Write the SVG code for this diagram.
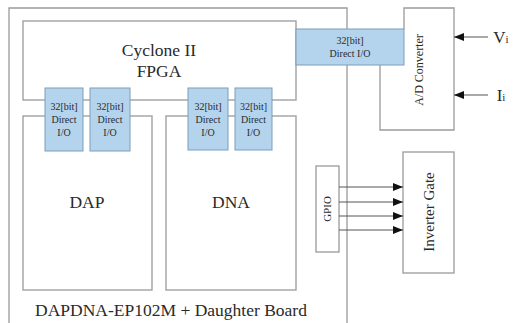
<svg xmlns="http://www.w3.org/2000/svg" width="513" height="323" viewBox="0 0 513 323">
<defs>
<style>
.ln{fill:none;stroke:#9a9a9a;stroke-width:1.3}
.bx{fill:#fff;stroke:#9a9a9a;stroke-width:1.3}
.io{fill:#b4d4ee;stroke:#7d9cb8;stroke-width:1}
text{font-family:'Liberation Serif','Times New Roman',serif;fill:#2a2a2a;text-anchor:middle}
.s{font-size:10px}
.m{font-size:12px}
.l{font-size:17.5px}
.a{stroke:#555;stroke-width:1;fill:none}
</style>
<marker id="ah" viewBox="0 0 10 8" refX="10" refY="4" markerWidth="10" markerHeight="8" markerUnits="userSpaceOnUse" orient="auto">
<path d="M0,0 L10,4 L0,8 z" fill="#111"/>
</marker>
</defs>
<rect width="513" height="323" fill="#fff"/>
<g id="board">
<path class="ln" d="M9,323 V8 H347 V323"/>
<text class="l" x="171" y="316">DAPDNA-EP102M + Daughter Board</text>
</g>
<g id="fpga">
<rect class="bx" x="23" y="21" width="273" height="79"/>
<text class="l" x="159" y="56">Cyclone II</text>
<text class="l" x="159" y="77">FPGA</text>
</g>
<g id="dap">
<rect class="bx" x="23" y="116" width="129" height="174"/>
<text class="l" x="87" y="208">DAP</text>
</g>
<g id="dna">
<rect class="bx" x="166" y="116" width="130" height="174"/>
<text class="l" x="231" y="208">DNA</text>
</g>
<g id="io1">
<rect class="io" x="45" y="88" width="38" height="63"/>
<text class="s" x="64" y="110">32[bit]</text>
<text class="s" x="64" y="123">Direct</text>
<text class="s" x="64" y="136">I/O</text>
</g>
<g id="io2">
<rect class="io" x="90" y="88" width="40" height="63"/>
<text class="s" x="110" y="110">32[bit]</text>
<text class="s" x="110" y="123">Direct</text>
<text class="s" x="110" y="136">I/O</text>
</g>
<g id="io3">
<rect class="io" x="188" y="88" width="40" height="62"/>
<text class="s" x="208" y="110">32[bit]</text>
<text class="s" x="208" y="123">Direct</text>
<text class="s" x="208" y="136">I/O</text>
</g>
<g id="io4">
<rect class="io" x="235" y="88" width="37" height="62"/>
<text class="s" x="253.5" y="110">32[bit]</text>
<text class="s" x="253.5" y="123">Direct</text>
<text class="s" x="253.5" y="136">I/O</text>
</g>
<g id="io5">
<rect class="io" x="296" y="29" width="108" height="36"/>
<text class="s" x="350" y="44">32[bit]</text>
<text class="s" x="350" y="57">Direct I/O</text>
</g>
<g id="adc">
<path class="ln" d="M404,29 V8 H454 V130 H380 V65"/>
<text class="m" transform="translate(423,70) rotate(-90)">A/D Converter</text>
</g>
<g id="gpio">
<rect class="bx" x="316" y="166" width="23" height="86"/>
<text class="m" style="font-size:11px" transform="translate(331,209) rotate(-90)">GPIO</text>
</g>
<g id="inverter">
<rect class="bx" x="403" y="152" width="51" height="121"/>
<text style="font-size:15px" transform="translate(434,212) rotate(-90)">Inverter Gate</text>
</g>
<g id="connectors">
<line class="a" x1="488" y1="37" x2="454" y2="37" marker-end="url(#ah)"/>
<line class="a" x1="488" y1="95" x2="454" y2="95" marker-end="url(#ah)"/>
<line class="a" x1="339" y1="187" x2="403" y2="187" marker-end="url(#ah)"/>
<line class="a" x1="339" y1="202" x2="403" y2="202" marker-end="url(#ah)"/>
<line class="a" x1="339" y1="216" x2="403" y2="216" marker-end="url(#ah)"/>
<line class="a" x1="339" y1="230" x2="403" y2="230" marker-end="url(#ah)"/>
</g>
<g id="labels">
<text x="501" y="43" style="font-size:17px">V<tspan style="font-size:11px">i</tspan></text>
<text x="501" y="101" style="font-size:17px">I<tspan style="font-size:11px">i</tspan></text>
</g>
</svg>
